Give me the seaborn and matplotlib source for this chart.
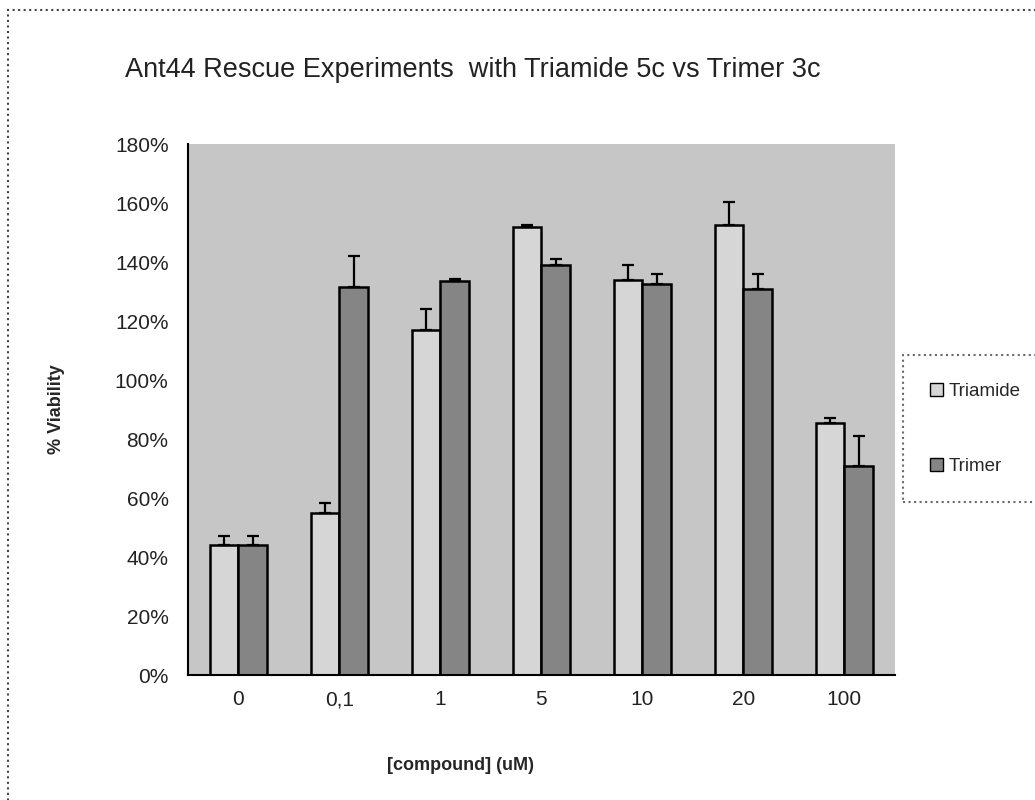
import numpy as np
import pandas as pd
import matplotlib
matplotlib.use("Agg")
import matplotlib.pyplot as plt
import matplotlib.patches as mpatches
import seaborn as sns

# data
doses = ["0", "0,1", "1", "5", "10", "20", "100"]
series = ["Triamide", "Trimer"]
triamide = [44, 55, 117, 152, 134, 152.5, 85.5]
trimer = [44, 131.5, 133.5, 139, 132.5, 131, 71]
triamide_err = [3, 3.5, 7, 0.5, 5, 8, 1.5]
trimer_err = [3, 10.5, 0.8, 2, 3.5, 5, 10]
yticks = [0, 20, 40, 60, 80, 100, 120, 140, 160, 180]

sns.set_theme(style="white")
plt.rcParams['font.family'] = ['Liberation Sans', 'DejaVu Sans']

df = pd.DataFrame({
    "dose": doses * 2,
    "series": [series[0]] * len(doses) + [series[1]] * len(doses),
    "value": triamide + trimer,
})

fig = plt.figure(figsize=(10.35, 8), dpi=100)
ax = fig.add_axes([0.1816, 0.156, 0.683, 0.664])

fills = {"Triamide": "#d6d6d6", "Trimer": "#858585"}
sns.barplot(data=df, x="dose", y="value", hue="series", order=doses,
            hue_order=series, palette=fills, width=0.57, errorbar=None,
            edgecolor="black", linewidth=1.8, legend=False, ax=ax)

# upward-only error bars, placed on the bars seaborn drew
for cont, errs in zip(ax.containers, [triamide_err, trimer_err]):
    xs = [p.get_x() + p.get_width() / 2 for p in cont.patches]
    hs = [p.get_height() for p in cont.patches]
    ax.errorbar(xs, hs, yerr=[np.zeros(len(errs)), errs], fmt="none",
                ecolor="black", elinewidth=1.6, capsize=4.5, capthick=1.6, zorder=5)

ax.set_facecolor("#c6c6c6")
ax.set_ylim(0, 180)
ax.set_xlim(-0.5, len(doses) - 0.5)
ax.set_yticks(yticks)
ax.set_yticklabels([f"{v}%" for v in yticks], fontsize=15, color="#222222")
ax.set_xticks(range(len(doses)))
ax.set_xticklabels(doses, fontsize=15, color="#222222")
ax.set_xticks(np.arange(-0.5, len(doses), 1), minor=True)
ax.tick_params(axis="x", which="major", length=0, pad=11)
ax.tick_params(axis="x", which="minor", length=5, width=1.2, color="black", direction="out")
ax.tick_params(axis="y", length=5, width=1.2, color="black", direction="out", pad=9)

for side in ["top", "right"]:
    ax.spines[side].set_visible(False)
for side in ["left", "bottom"]:
    ax.spines[side].set_color("black")
    ax.spines[side].set_linewidth(1.5)

ax.set_xlabel("[compound] (uM)", fontsize=13, fontweight="bold", labelpad=34)
ax.xaxis.label.set_x(0.385)
ax.set_ylabel("% Viability", fontsize=13, fontweight="bold", labelpad=36)

fig.text(0.457, 0.9125, "Ant44 Rescue Experiments  with Triamide 5c vs Trimer 3c",
         ha="center", va="center", fontsize=19.5, color="#222222")

handles = [mpatches.Patch(facecolor=fills[s], edgecolor="black", linewidth=1, label=s)
           for s in series]
leg = fig.legend(handles=handles, loc="center left", bbox_to_anchor=(0.8725, 0.464),
                 fontsize=13.5, frameon=True, fancybox=False, labelspacing=3.1,
                 handlelength=0.7, handleheight=0.7, handletextpad=0.3,
                 borderpad=1.45, borderaxespad=0)
leg.get_frame().set_edgecolor("#444444")
leg.get_frame().set_linestyle(":")
leg.get_frame().set_linewidth(1.5)

# dotted chart-area border (right and bottom edges fall outside the image)
border = mpatches.Rectangle((0.008, -0.02), 1.2, 1.007, transform=fig.transFigure,
                            fill=False, edgecolor="#444444", linestyle=":", linewidth=1.5)
fig.add_artist(border)

fig.savefig("out.png", dpi=100, facecolor="white")
